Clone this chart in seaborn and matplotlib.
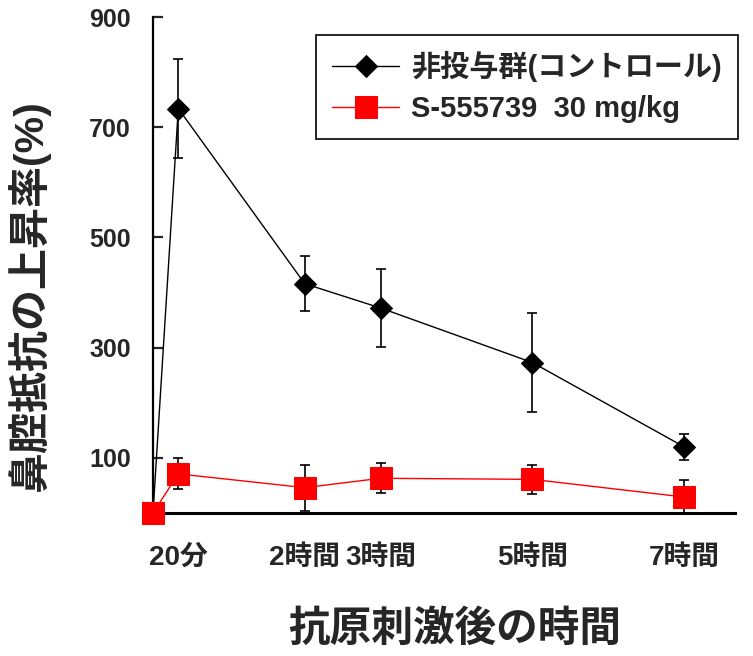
import numpy as np
import pandas as pd
import matplotlib
matplotlib.use("Agg")
import matplotlib.pyplot as plt
import seaborn as sns

# time after antigen challenge, in hours (0, 20 min, 2h, 3h, 5h, 7h)
hours = [0, 20 / 60, 2, 3, 5, 7]
tick_hours = [20 / 60, 2, 3, 5, 7]
tick_labels = ['20分', '2時間', '3時間', '5時間', '7時間']

control = [0, 734, 416, 372, 273, 120]
control_err = [0, 89, 50, 70, 90, 23]
drug = [0, 71, 46, 63, 61, 29]
drug_err = [0, 28, 42, 27, 26, 31]

label_control = '非投与群(コントロール)'
label_drug = 'S-555739  30 mg/kg'

sns.set_style('ticks')
plt.rcParams['font.family'] = ['Liberation Sans', 'Noto Sans CJK JP']
plt.rcParams['font.weight'] = 'bold'

fig = plt.figure(figsize=(7.53, 6.56), dpi=100)
ax = fig.add_axes([0.2032, 0.218, 0.7729, 0.756])

df_c = pd.DataFrame({'hours': hours, 'value': control})
df_d = pd.DataFrame({'hours': hours, 'value': drug})

# error bars below the markers
ax.errorbar(hours, control, yerr=control_err, fmt='none', ecolor='black',
            elinewidth=1.2, capsize=3.8, capthick=1.2, zorder=2, clip_on=False)
ax.errorbar(hours, drug, yerr=drug_err, fmt='none', ecolor='black',
            elinewidth=1.2, capsize=3.8, capthick=1.2, zorder=2, clip_on=False)

sns.lineplot(data=df_c, x='hours', y='value', color='black', linewidth=1.0,
             marker='D', markersize=11.5, markeredgecolor='black',
             markerfacecolor='black', label=label_control, ax=ax,
             zorder=3, clip_on=False)
sns.lineplot(data=df_d, x='hours', y='value', color='red', linewidth=1.0,
             marker='s', markersize=15.5, markeredgecolor='red',
             markerfacecolor='red', label=label_drug, ax=ax,
             zorder=4, clip_on=False)

ax.set_xlim(0, 7.67)
ax.set_ylim(0, 900)
ax.set_yticks([100, 300, 500, 700, 900])
ax.set_xticks(tick_hours)
ax.set_xticklabels(tick_labels, fontsize=20, fontweight='bold')
ax.set_yticklabels(['100', '300', '500', '700', '900'], fontsize=18, fontweight='bold')

ax.tick_params(axis='x', length=0, pad=23)
ax.tick_params(axis='y', direction='in', length=7, width=1.6, pad=16)

sns.despine(ax=ax)
ax.spines['left'].set_linewidth(1.6)
ax.spines['bottom'].set_linewidth(2.2)
ax.spines['left'].set_color('black')
ax.spines['bottom'].set_color('black')

ax.set_ylabel('鼻腔抵抗の上昇率(%)', fontsize=29.5, fontweight='bold')
ax.yaxis.set_label_coords(-0.177, 0.44)
ax.set_xlabel('抗原刺激後の時間', fontsize=30, fontweight='bold')
ax.xaxis.set_label_coords(0.519, -0.195)

leg = ax.legend(loc='upper right', bbox_to_anchor=(1.005, 0.964),
                prop={'size': 21, 'weight': 'bold'}, frameon=True,
                fancybox=False, framealpha=1, edgecolor='black',
                handlelength=2.3, handletextpad=0.4, borderpad=0.55,
                labelspacing=0.45, borderaxespad=0)
leg.get_frame().set_linewidth(1.2)

fig.savefig('out.png', dpi=100)
